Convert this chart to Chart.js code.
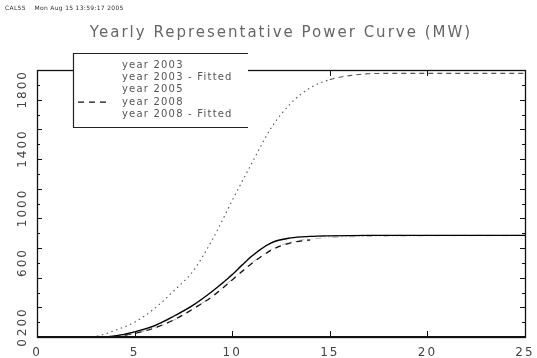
<!DOCTYPE html>
<html>
<head>
<meta charset="utf-8">
<script src="https://cdn.jsdelivr.net/npm/chart.js@4"></script>
<style>
  html, body { margin: 0; padding: 0; background: #fff; }
  #wrap { position: relative; width: 537px; height: 358px; }
  #stamp {
    position: absolute; left: 5px; top: 4px;
    font: 6px 'DejaVu Sans', sans-serif; color: #333; letter-spacing: 0.3px;
  }
</style>
</head>
<body>
<div id="wrap">
  <div id="stamp">CAL55&nbsp;&nbsp;&nbsp;&nbsp;Mon Aug 15 13:59:17 2005</div>
  <canvas id="power-curve" width="537" height="358"></canvas>
</div>
<script>
/* ─── Data ──────────────────────────────────────────────────────────────── */
const WIND_SPEED   = [0, 1, 2, 3, 4, 5, 6, 7, 8, 9, 10, 11, 12, 13, 14, 15, 16, 17, 18, 19, 20, 21, 22, 23, 24, 25];
const WIND_2008    = [0, 1, 2, 3, 4, 5, 6, 7, 8, 9, 10, 11, 12, 13, 14];

const Y2003        = [0, 0, 0, 0, 8, 35, 75, 140, 215, 310, 420, 545, 635, 668, 678, 682, 684, 685, 685, 685, 685, 685, 685, 685, 685, 685];
const Y2003_FIT    = [0, 0, 0, 0, 5, 30, 70, 135, 212, 312, 428, 550, 632, 666, 678, 682, 684, 685, 685, 685, 685, 685, 685, 685, 685, 685];
const Y2005        = [0, 0, 0, 5, 45, 100, 190, 310, 445, 660, 920, 1170, 1410, 1575, 1680, 1735, 1762, 1775, 1777, 1777, 1777, 1777, 1777, 1777, 1777, 1777];
const Y2008        = [0, 0, 0, 0, 5, 25, 60, 115, 190, 275, 385, 495, 585, 635, 655];
const Y2008_FIT    = [0, 0, 0, 0, 3, 22, 58, 112, 188, 280, 390, 500, 590, 640, 660, 670, 675, 678, 680, 681, 682, 683, 683, 683, 683, 683];

const X_TICKS      = [0, 5, 10, 15, 20, 25];
const Y_TICKS      = [0, 200, 600, 1000, 1400, 1800];

const pts = (xs, ys) => ys.map((v, i) => ({ x: xs[i], y: v }));

/* ─── Frame, inward ticks and boxed legend, IDL style ──────────────────── */
const framePlugin = {
  id: 'frame',
  beforeLayout(chart) { chart.ctx.letterSpacing = '2px'; },
  beforeDraw(chart)   { chart.ctx.letterSpacing = '2px'; },
  afterDatasetsDraw(chart) {
    const { ctx, chartArea: a, scales: { x, y } } = chart;
    ctx.save();
    ctx.strokeStyle = '#111';
    ctx.lineWidth = 1.3;
    ctx.strokeRect(a.left + 0.5, a.top + 0.5, a.right - a.left, a.bottom - a.top);
    ctx.lineWidth = 2;
    ctx.beginPath();
    ctx.moveTo(a.left, a.bottom);
    ctx.lineTo(a.right, a.bottom);
    ctx.stroke();

    ctx.lineWidth = 1;
    ctx.beginPath();
    for (let v = 0; v <= 1800; v += 100) {
      const py = Math.round(y.getPixelForValue(v)) + 0.5;
      const len = v % 200 === 0 ? 5 : 3;
      ctx.moveTo(a.left, py);  ctx.lineTo(a.left + len, py);
      ctx.moveTo(a.right, py); ctx.lineTo(a.right - len, py);
    }
    X_TICKS.forEach(v => {
      const px = Math.round(x.getPixelForValue(v)) + 0.5;
      ctx.moveTo(px, a.bottom); ctx.lineTo(px, a.bottom - 6);
      ctx.moveTo(px, a.top);    ctx.lineTo(px, a.top + 6);
    });
    ctx.stroke();

    /* legend box */
    const bx = 73, by = 53, bw = 175, bh = 74;
    ctx.fillStyle = '#fff';
    ctx.fillRect(bx, by, bw, bh);
    ctx.strokeStyle = '#222';
    ctx.lineWidth = 1.2;
    ctx.beginPath();
    ctx.moveTo(bx + bw, by + 0.5);
    ctx.lineTo(bx + 0.5, by + 0.5);
    ctx.lineTo(bx + 0.5, by + bh + 0.5);
    ctx.lineTo(bx + bw, by + bh + 0.5);
    ctx.stroke();

    ctx.font = "10px 'DejaVu Sans', sans-serif";
    ctx.textBaseline = 'middle';
    ctx.letterSpacing = '1.2px';
    chart.data.datasets.forEach((ds, i) => {
      const ty = by + 12 + i * 12.4;
      ctx.fillStyle = '#555';
      ctx.fillText(ds.label, 122, ty);
      if (ds.legendSample) {
        ctx.strokeStyle = ds.borderColor;
        ctx.lineWidth = ds.borderWidth;
        ctx.setLineDash(ds.borderDash || []);
        ctx.beginPath();
        ctx.moveTo(78, ty);
        ctx.lineTo(108, ty);
        ctx.stroke();
        ctx.setLineDash([]);
      }
    });
    ctx.restore();
  }
};

/* ─── Chart ─────────────────────────────────────────────────────────────── */
new Chart(document.getElementById('power-curve'), {
  type: 'line',
  data: {
    datasets: [
      {
        label: 'year 2003',
        data: pts(WIND_SPEED, Y2003),
        borderColor: '#000',
        borderWidth: 1.3
      },
      {
        label: 'year 2003 - Fitted',
        data: pts(WIND_SPEED, Y2003_FIT),
        borderColor: '#aaa',
        borderWidth: 1,
        borderDash: [6, 3, 1, 3]
      },
      {
        label: 'year 2005',
        data: pts(WIND_SPEED, Y2005),
        borderColor: '#555',
        borderWidth: 1.1,
        borderDash: [1.5, 3.5],
        segment: { borderDash: c => c.p0.parsed.x >= 15 ? [5, 4] : undefined }
      },
      {
        label: 'year 2008',
        data: pts(WIND_2008, Y2008),
        borderColor: '#111',
        borderWidth: 1.3,
        borderDash: [6, 5],
        legendSample: true
      },
      {
        label: 'year 2008 - Fitted',
        data: pts(WIND_SPEED, Y2008_FIT),
        borderColor: '#bbb',
        borderWidth: 1,
        borderDash: [6, 3, 1, 3, 1, 3]
      }
    ]
  },
  options: {
    responsive: false,
    animation: false,
    devicePixelRatio: 1,
    layout: { padding: { left: 0, right: 12, top: 0, bottom: 0 } },
    elements: {
      point: { radius: 0 },
      line:  { cubicInterpolationMode: 'monotone', fill: false }
    },
    plugins: {
      legend:  { display: false },
      tooltip: { enabled: false },
      title: {
        display: true,
        fullSize: false,
        text: 'Yearly Representative Power Curve (MW)',
        color: '#666',
        font: { family: "'DejaVu Sans', sans-serif", size: 15, weight: 'normal' },
        padding: { top: 24, bottom: 28 }
      }
    },
    scales: {
      x: {
        type: 'linear',
        min: 0, max: 25,
        grid: { display: false },
        border: { display: false },
        afterBuildTicks: s => { s.ticks = X_TICKS.map(v => ({ value: v })); },
        afterFit: s => { s.height = 21; },
        ticks: {
          color: '#444', padding: 1, maxRotation: 0,
          callback: v => String(v),
          font: { family: "'DejaVu Sans', sans-serif", size: 12 }
        }
      },
      y: {
        min: 0, max: 1800,
        grid: { display: false },
        border: { display: false },
        afterBuildTicks: s => { s.ticks = Y_TICKS.map(v => ({ value: v })); },
        afterFit: s => { s.width = 37; },
        ticks: {
          color: '#444', padding: 6, minRotation: 90, maxRotation: 90,
          callback: v => String(v),
          font: { family: "'DejaVu Sans', sans-serif", size: 12 }
        }
      }
    }
  },
  plugins: [framePlugin]
});
</script>
</body>
</html>
